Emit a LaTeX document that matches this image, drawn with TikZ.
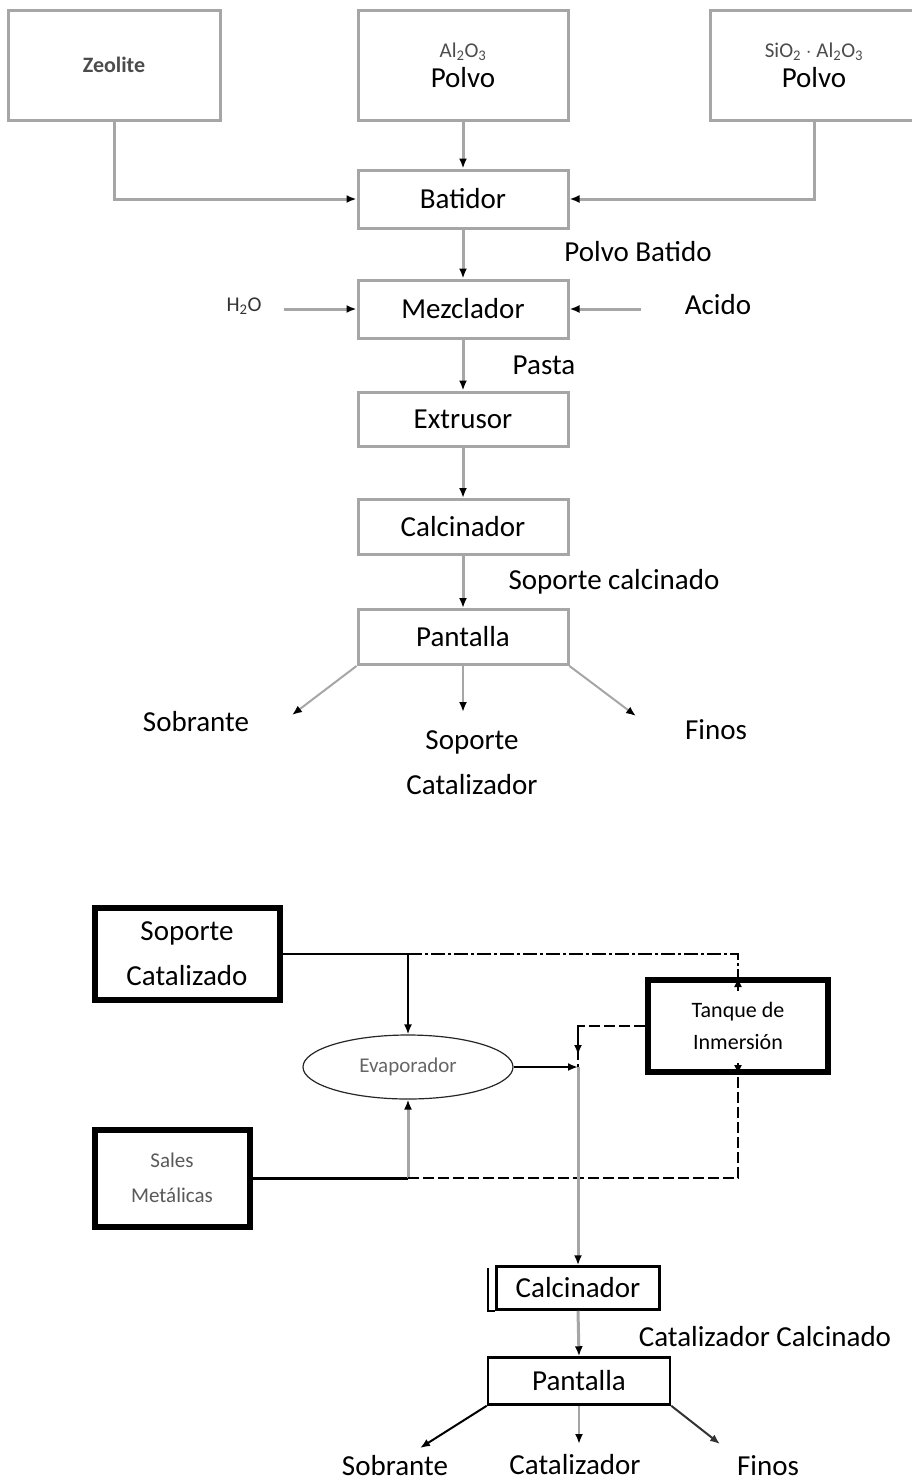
\documentclass[tikz,border=0pt]{standalone}
\usepackage{fontspec}
\setmainfont{Carlito}
\usetikzlibrary{arrows.meta}
\usetikzlibrary{shapes}
\usetikzlibrary{positioning}

\begin{document}
\begin{tikzpicture}[x=1pt,y=-1pt]
	\tikzset{caja/.style = {shape=rectangle,draw=gray!70,line width=3pt,
			inner sep=0pt,align=center,font=\fontsize{29}{32}\selectfont}}
	\tikzset{cajaNegra/.style = {shape=rectangle,draw=black,line width=6pt,
			inner sep=0pt,align=center,font=\fontsize{29}{45}\selectfont}}
	\tikzset{cajaFina/.style = {shape=rectangle,draw=black,line width=2.5pt,
			inner sep=0pt,font=\fontsize{29}{32}\selectfont}}
	\tikzset{etiq/.style = {inner sep=0pt,align=center,font=\fontsize{29}{45}\selectfont}}
	\tikzset{chico/.style = {inner sep=0pt,align=center,text=black!75,
			font=\fontsize{21}{32}\selectfont}}
	\tikzset{flecha/.style = {-{Latex[length=10pt,width=8pt,color=black]},
			draw=gray!70,line width=3pt}}
	\tikzset{flechaNegra/.style = {-{Latex[length=10pt,width=8pt]},
			draw=black,line width=2.5pt}}
	\tikzset{rayaPunto/.style = {draw=black,line width=2.5pt,
			dash pattern=on 14pt off 3pt on 3pt off 3pt}}
	\tikzset{raya/.style = {draw=black,line width=2.5pt,
			dash pattern=on 11pt off 4pt}}

	\useasboundingbox (0,0) rectangle (912,1483);

	% primera parte: soporte
	\node[caja,minimum width=212pt,minimum height=110pt] (zeo) at (114,65)
		{\fontsize{22}{26}\selectfont\bfseries\color{black!70}Zeolite};
	\node[caja,minimum width=210pt,minimum height=110pt] (alu) at (463,65)
		{{\fontsize{21}{24}\selectfont\color{black!70}Al\textsubscript{2}O\textsubscript{3}}\\[-2pt] Polvo};
	\node[caja,minimum width=208pt,minimum height=110pt] (sil) at (814,65)
		{{\fontsize{21}{24}\selectfont\color{black!70}SiO\textsubscript{2} $\cdot$ Al\textsubscript{2}O\textsubscript{3}}\\[-2pt] Polvo};
	\node[caja,minimum width=210pt,minimum height=58pt] (bat) at (463,199) {Batidor};
	\node[caja,minimum width=210pt,minimum height=58pt] (mez) at (463,309) {Mezclador};
	\node[caja,minimum width=210pt,minimum height=54pt] (ext) at (463,419) {Extrusor};
	\node[caja,minimum width=210pt,minimum height=55pt] (cal) at (463,527) {Calcinador};
	\node[caja,minimum width=210pt,minimum height=55pt] (pan) at (463,637) {Pantalla};

	\node[chico,text=black!80] (agua) at (244,306) {H\textsubscript{2}O};
	\node[etiq] (acido) at (718,305) {Acido};
	\node[etiq] (polbat) at (638,252) {Polvo Batido};
	\node[etiq] (pasta) at (544,365) {Pasta};
	\node[etiq] (sopcal) at (614,582) {Soporte calcinado};
	\node[etiq] (sob) at (196,722) {Sobrante};
	\node[etiq] (sopcat) at (472,763) {Soporte\\Catalizador};
	\node[etiq] (fin) at (716,730) {Finos};
	\coordinate (sobF) at (292,715);
	\coordinate (catF) at (463,712);
	\coordinate (finF) at (636,716);

	% conexiones
	\draw[flecha] (zeo.south) |- (bat.west);
	\draw[flecha] (alu.south) -- (bat.north);
	\draw[flecha] (sil.south) |- (bat.east);
	\draw[flecha] (bat.south) -- (mez.north);
	\draw[flecha,shorten <=22pt] (agua.east |- mez.west) -- (mez.west);
	\draw[flecha,shorten <=44pt] (acido.west |- mez.east) -- (mez.east);
	\draw[flecha] (mez.south) -- (ext.north);
	\draw[flecha] (ext.south) -- (cal.north);
	\draw[flecha] (cal.south) -- (pan.north);
	\draw[flecha,line width=2pt] (pan.south west) -- (sobF);
	\draw[flecha,line width=2pt] (pan.south) -- (catF);
	\draw[flecha,line width=2pt] (pan.south east) -- (finF);

	% segunda parte: catalizador
	\node[cajaNegra,minimum width=185pt,minimum height=92pt] (sop) at (187,954) {Soporte\\Catalizado};
	\node[cajaNegra,minimum width=180pt,minimum height=92pt,font=\fontsize{22}{32}\selectfont]
		(tan) at (738,1026) {Tanque de\\Inmersión};
	\node[cajaNegra,minimum width=155pt,minimum height=97pt,font=\fontsize{21}{35}\selectfont,
		text=black!65] (sal) at (172,1178) {Sales\\Metálicas};
	\node[shape=ellipse,draw=black!85,line width=1.2pt,minimum width=210pt,minimum height=64pt,
		inner sep=0pt,text=black!60,font=\fontsize{21}{24}\selectfont] (eva) at (408,1067) {Evaporador};
	\node[cajaFina,minimum width=163pt,minimum height=43pt] (cal2) at (578,1288) {Calcinador};
	\node[cajaFina,minimum width=182pt,minimum height=47pt] (pan2) at (579,1381) {Pantalla};
	\draw[black,line width=2pt] ([xshift=-7pt,yshift=-3pt]cal2.north west) -- ([xshift=-7pt]cal2.south west)
		-- (cal2.south west);

	\node[etiq] (catcal) at (765,1337) {Catalizador Calcinado};
	\node[etiq] (sob2) at (395,1466) {Sobrante};
	\node[etiq] (cat2) at (575,1465) {Catalizador};
	\node[etiq] (fin2) at (768,1466) {Finos};

	\coordinate (j1) at (eva.north |- sop.east);
	\coordinate (j2) at (cal2.north |- eva.east);
	\coordinate (j3) at (eva.south |- sal.east);
	\coordinate (j4) at (j2 |- tan.west);
	\coordinate (sob2F) at (420,1448);
	\coordinate (cat2F) at (579,1444);
	\coordinate (fin2F) at (720,1444);

	% conexiones
	\draw[black,line width=2.5pt] (sop.east) -- (j1);
	\draw[rayaPunto] (j1) -| ([yshift=-12pt]tan.north);
	\draw[flechaNegra] ([yshift=-14pt]tan.north) -- (tan.north);
	\draw[flechaNegra] (j1) -- (eva.north);
	\draw[flechaNegra] (eva.east) -- (j2);
	\draw[raya] (tan.west) -- (j4) -- ([yshift=-12pt]j2);
	\draw[flechaNegra,shorten >=12pt] (j4) -- (j2);
	\draw[black,line width=3pt] (sal.east) -- (j3);
	\draw[flecha] (j3) -- (eva.south);
	\draw[raya] (j3) -| ([yshift=12pt]tan.south);
	\draw[flechaNegra] ([yshift=12pt]tan.south) -- (tan.south);
	\draw[flecha] (j2) -- (cal2.north);
	\draw[flecha] (cal2.south) -- (pan2.north);
	\draw[flechaNegra,line width=2pt] (pan2.south west) -- (sob2F);
	\draw[flecha,line width=2.5pt] (pan2.south) -- (cat2F);
	\draw[flechaNegra,draw=black!80,line width=2pt] (pan2.south east) -- (fin2F);
\end{tikzpicture}
\end{document}
